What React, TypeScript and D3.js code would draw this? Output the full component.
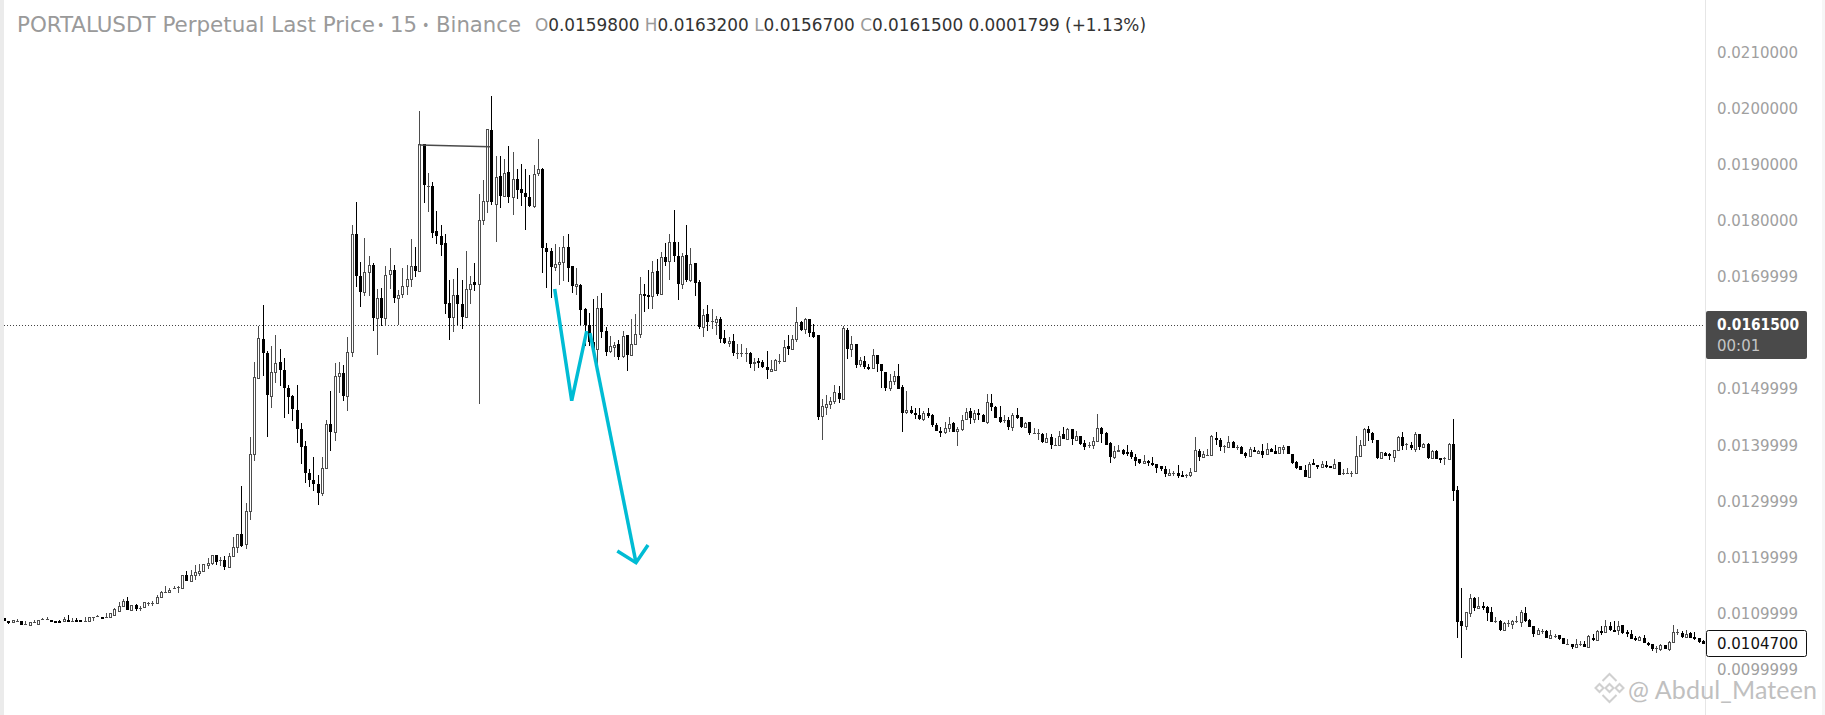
import { useMemo } from 'react';
import * as d3 from 'd3';

// Candles are [open, high, low, close] in units of 0.00001.
type Candle = number[];

const candlesBase: Candle[] = [
  [1091,1091,1087,1087],[1087,1087,1081,1083],[1084,1088,1084,1088],[1087,1090,1084,1087],[1087,1087,1079,1079],
  [1081,1087,1080,1081],[1080,1084,1080,1084],[1085,1089,1085,1085],[1081,1088,1081,1088],[1090,1092,1090,1090],
  [1090,1093,1090,1090],[1089,1089,1084,1087],[1087,1087,1083,1083],[1087,1089,1083,1083],[1087,1094,1087,1090],
  [1089,1098,1085,1085],[1087,1092,1087,1087],[1089,1091,1087,1087],[1089,1089,1087,1087],[1087,1094,1087,1087],
  [1087,1093,1087,1093],[1093,1093,1087,1093],[1095,1097,1095,1095],[1094,1094,1092,1092],[1094,1101,1094,1094],
  [1093,1101,1093,1101],[1098,1109,1095,1107],[1104,1121,1102,1114],[1113,1126,1112,1123],[1123,1130,1106,1106],
  [1106,1115,1106,1115],[1115,1117,1104,1107],[1110,1113,1104,1110],[1112,1120,1112,1120],[1118,1121,1114,1118],
  [1119,1123,1113,1119],[1119,1132,1119,1130],[1130,1140,1130,1138],[1138,1148,1136,1138],[1138,1145,1136,1142],
  [1146,1148,1144,1146],[1147,1148,1136,1147],[1146,1168,1146,1168],[1169,1176,1158,1158],[1158,1177,1158,1169],
  [1169,1186,1160,1173],[1172,1188,1166,1175],[1176,1188,1176,1188],[1187,1198,1180,1189],[1190,1205,1186,1205],
  [1204,1205,1186,1192],[1195,1200,1184,1195],[1195,1203,1177,1182],[1182,1207,1181,1203],[1202,1237,1201,1219],
  [1219,1242,1208,1241],[1241,1327,1218,1220],
];

const candlesFirstRally: Candle[] = [
  [1223,1296,1215,1283],[1283,1414,1266,1385],[1385,1548,1371,1522],[1520,1613,1518,1591],[1590,1649,1523,1565],
  [1565,1568,1414,1489],[1488,1576,1466,1531],[1531,1596,1511,1547],[1548,1572,1505,1534],[1534,1556,1448,1501],
  [1501,1508,1455,1486],[1488,1489,1443,1464],[1463,1507,1404,1428],[1428,1439,1366,1397],[1398,1407,1332,1350],
  [1351,1358,1325,1338],[1337,1378,1318,1330],[1330,1347,1293,1315],[1315,1378,1309,1360],[1360,1444,1360,1438],
  [1438,1496,1389,1423],[1424,1547,1407,1524],[1524,1549,1493,1529],[1529,1542,1479,1487],[1488,1593,1461,1566],
];

const candlesTop: Candle[] = [
  [1566,1792,1557,1776],[1776,1834,1682,1701],[1702,1727,1646,1673],[1673,1770,1666,1709],[1709,1738,1666,1722],
  [1722,1724,1603,1626],[1626,1678,1560,1663],[1663,1681,1613,1626],[1626,1719,1613,1704],[1705,1752,1678,1713],
  [1713,1722,1653,1662],[1662,1677,1615,1668],[1670,1715,1663,1684],[1684,1722,1667,1697],[1696,1767,1682,1719],
  [1719,1754,1700,1710],[1710,1995,1710,1936],[1936,1937,1831,1863],[1862,1885,1815,1862],[1862,1869,1769,1778],
  [1781,1817,1758,1773],[1772,1792,1737,1757],[1760,1776,1633,1651],[1654,1694,1587,1626],[1628,1697,1602,1668],
  [1667,1715,1615,1651],[1651,1694,1607,1628],[1629,1747,1628,1679],[1678,1701,1651,1688],[1690,1724,1675,1685],
  [1688,1847,1474,1802],[1802,1872,1792,1836],[1836,1964,1814,1964],[1962,2023,1829,1833],[1830,1916,1763,1878],
  [1880,1916,1823,1845],[1844,1911,1842,1885],[1887,1934,1832,1842],[1842,1923,1811,1875],[1875,1893,1838,1854],
  [1856,1902,1827,1849],[1849,1893,1783,1842],[1843,1881,1825,1826],[1826,1900,1822,1884],[1885,1945,1880,1893],
];

const candlesSlide: Candle[] = [
  [1893,1894,1707,1751],[1752,1761,1680,1745],[1746,1752,1662,1717],[1717,1758,1711,1723],[1723,1753,1686,1726],
  [1726,1772,1692,1754],[1754,1777,1690,1716],[1719,1720,1672,1684],[1684,1715,1667,1688],[1686,1688,1615,1641],
  [1642,1645,1577,1614],[1615,1635,1577,1584],[1583,1661,1566,1569],[1571,1665,1545,1645],[1645,1672,1591,1602],
  [1603,1611,1559,1566],[1568,1595,1564,1576],[1575,1583,1557,1579],[1580,1588,1552,1557],[1559,1604,1556,1595],
  [1597,1597,1532,1561],[1561,1624,1560,1581],[1581,1633,1580,1599],[1599,1700,1591,1670],[1670,1688,1637,1667],
  [1668,1713,1643,1666],[1666,1729,1643,1709],[1710,1731,1666,1669],[1670,1745,1670,1736],[1736,1761,1720,1726],
  [1729,1777,1694,1763],[1763,1820,1726,1737],[1738,1763,1658,1687],[1687,1743,1678,1738],[1739,1792,1691,1694],
  [1694,1752,1690,1723],[1724,1724,1665,1689],[1690,1695,1607,1610],[1611,1643,1593,1632],[1633,1649,1603,1619],
  [1622,1642,1607,1622],[1619,1631,1597,1625],[1625,1629,1582,1589],[1591,1606,1580,1582],[1582,1593,1575,1586],
  [1586,1599,1559,1564],[1565,1581,1553,1565],[1565,1580,1558,1565],[1565,1574,1549,1565],[1565,1566,1537,1544],
  [1546,1556,1532,1549],[1550,1555,1537,1548],[1549,1551,1537,1539],[1540,1567,1518,1534],[1533,1551,1532,1535],
  [1534,1554,1533,1551],[1550,1563,1545,1550],[1550,1588,1550,1575],[1576,1596,1560,1571],[1571,1597,1569,1590],
  [1590,1647,1584,1619],[1619,1622,1603,1605],[1607,1626,1599,1624],[1624,1625,1593,1600],[1602,1616,1591,1592],
];

const candlesGrind: Candle[] = [
  [1596,1597,1444,1450],[1452,1483,1409,1469],[1468,1489,1454,1474],[1473,1486,1465,1479],[1479,1507,1474,1495],
  [1493,1505,1476,1483],[1483,1612,1481,1608],[1606,1608,1553,1571],[1571,1594,1558,1581],[1581,1581,1537,1543],
  [1545,1558,1539,1552],[1550,1559,1535,1539],[1540,1545,1534,1536],[1537,1571,1537,1561],[1561,1561,1531,1545],
  [1545,1545,1501,1532],[1531,1531,1496,1502],[1502,1527,1496,1515],[1515,1533,1507,1524],[1524,1544,1500,1500],
  [1504,1508,1423,1457],[1459,1496,1455,1463],[1463,1470,1455,1457],[1458,1466,1447,1454],[1454,1466,1445,1446],
  [1447,1460,1443,1458],[1458,1466,1448,1452],[1454,1455,1433,1436],[1436,1440,1425,1426],[1426,1433,1414,1423],
  [1423,1442,1419,1431],[1431,1451,1423,1438],[1439,1441,1423,1423],[1426,1432,1398,1429],[1429,1454,1425,1445],
  [1446,1466,1445,1459],[1460,1467,1437,1448],[1447,1463,1439,1458],[1458,1464,1445,1454],[1454,1456,1441,1441],
  [1441,1492,1438,1477],[1476,1492,1460,1468],[1468,1470,1448,1448],[1451,1469,1439,1441],[1444,1453,1439,1444],
  [1444,1450,1427,1433],[1432,1458,1425,1454],[1454,1466,1447,1448],[1451,1451,1430,1432],[1432,1441,1430,1440],
  [1441,1441,1418,1421],[1422,1430,1421,1422],[1422,1429,1410,1422],[1420,1422,1403,1406],[1406,1421,1403,1413],
  [1415,1419,1393,1400],[1401,1413,1398,1401],[1401,1426,1399,1417],[1419,1433,1411,1411],[1411,1430,1410,1428],
  [1428,1428,1401,1411],[1410,1426,1407,1416],[1416,1417,1401,1402],[1403,1409,1391,1396],[1400,1406,1395,1400],
  [1400,1414,1393,1408],[1408,1455,1406,1431],[1430,1433,1403,1420],[1421,1423,1400,1401],[1403,1406,1368,1379],
  [1378,1399,1376,1390],[1390,1400,1389,1392],[1392,1394,1382,1384],[1387,1400,1381,1384],[1387,1391,1376,1378],
  [1378,1385,1363,1372],[1375,1376,1366,1368],[1368,1382,1368,1372],[1372,1373,1362,1368],[1369,1378,1363,1364],
  [1366,1367,1350,1359],[1362,1363,1354,1357],[1358,1362,1343,1349],[1347,1357,1346,1351],[1350,1354,1345,1350],
  [1351,1364,1341,1345],[1346,1353,1343,1345],[1346,1349,1341,1346],[1347,1360,1344,1352],[1354,1414,1354,1392],
  [1390,1394,1372,1379],
];

const candlesRange: Candle[] = [
  [1379,1390,1378,1385],[1383,1394,1383,1383],[1383,1418,1383,1416],[1413,1424,1401,1411],[1410,1413,1390,1397],
  [1399,1400,1386,1399],[1397,1416,1397,1406],[1406,1407,1395,1395],[1396,1400,1391,1396],[1397,1398,1385,1385],
  [1386,1387,1377,1380],[1381,1396,1381,1393],[1392,1397,1387,1388],[1386,1392,1385,1390],[1390,1402,1377,1383],
  [1384,1403,1383,1394],[1394,1395,1388,1388],[1389,1400,1384,1384],[1386,1397,1385,1396],[1393,1400,1384,1397],
  [1398,1399,1384,1384],[1385,1385,1367,1368],[1370,1372,1358,1360],[1362,1362,1356,1356],[1356,1364,1343,1343],
  [1343,1370,1342,1367],[1368,1375,1364,1365],[1365,1365,1358,1361],[1361,1372,1361,1366],[1365,1372,1359,1361],
  [1362,1362,1360,1360],[1360,1376,1360,1367],[1370,1370,1347,1347],[1350,1358,1346,1350],[1351,1359,1350,1351],
  [1351,1353,1343,1351],[1351,1416,1351,1381],[1381,1410,1379,1401],[1401,1431,1400,1429],[1428,1435,1408,1422],
  [1422,1423,1403,1410],[1410,1410,1375,1377],[1377,1388,1376,1387],[1386,1388,1381,1381],[1384,1386,1374,1380],
  [1379,1392,1370,1392],[1391,1416,1390,1415],[1415,1424,1391,1399],[1402,1404,1391,1402],[1400,1406,1392,1395],
  [1394,1424,1388,1419],[1419,1420,1391,1397],[1397,1404,1395,1402],[1402,1403,1375,1377],[1377,1391,1377,1390],
  [1390,1391,1375,1375],[1377,1377,1368,1373],[1377,1378,1365,1377],[1375,1404,1375,1402],
];

const candlesCrash: Candle[] = [
  [1402,1446,1301,1318],[1320,1327,1056,1085],[1086,1146,1020,1078],[1078,1103,1070,1102],[1100,1134,1094,1128],
  [1127,1130,1105,1110],[1110,1130,1107,1114],[1114,1120,1106,1112],[1112,1113,1086,1100],[1102,1111,1085,1085],
  [1086,1093,1083,1086],[1087,1088,1069,1070],[1071,1084,1069,1083],[1083,1088,1076,1083],[1081,1089,1073,1086],
  [1087,1096,1083,1087],[1085,1106,1076,1102],[1100,1111,1085,1087],[1089,1090,1075,1076],[1077,1078,1058,1063],
  [1063,1074,1062,1071],[1069,1073,1063,1069],[1068,1070,1056,1056],[1057,1070,1056,1061],[1059,1064,1056,1059],
  [1061,1062,1053,1055],[1056,1056,1046,1046],[1046,1055,1043,1046],[1045,1046,1037,1040],[1041,1055,1041,1046],
  [1046,1050,1042,1046],[1045,1050,1041,1041],[1041,1061,1041,1060],[1057,1064,1051,1052],[1053,1070,1053,1068],
  [1068,1078,1062,1065],[1066,1089,1066,1077],[1077,1085,1068,1070],[1071,1086,1069,1070],[1071,1086,1061,1078],
  [1079,1079,1064,1065],[1067,1071,1058,1064],[1064,1070,1054,1055],[1057,1059,1050,1052],[1053,1059,1052,1058],
  [1057,1062,1048,1048],[1048,1049,1042,1043],[1045,1046,1033,1036],[1039,1042,1030,1039],[1036,1045,1033,1043],
  [1043,1044,1036,1037],[1036,1051,1033,1049],[1049,1079,1049,1066],[1066,1073,1061,1066],[1065,1069,1056,1058],
  [1058,1071,1057,1064],[1065,1066,1056,1057],[1058,1067,1053,1055],[1056,1057,1048,1049],[1051,1052,1045,1046],
];

const priceTicks = [0.021, 0.02, 0.019, 0.018, 0.017, 0.015, 0.014, 0.013, 0.012, 0.011, 0.01];
const tickLabels = [
  '0.0210000', '0.0200000', '0.0190000', '0.0180000', '0.0169999', '0.0149999',
  '0.0139999', '0.0129999', '0.0119999', '0.0109999', '0.0099999',
];

const lastPrice = 0.01615;
const lastCandlePrice = 0.01047;
const peakLevel = [0.01935, 0.01932];

const legendParts = [
  { k: 'O', v: '0.0159800' },
  { k: 'H', v: '0.0163200' },
  { k: 'L', v: '0.0156700' },
  { k: 'C', v: '0.0161500' },
];

const BULL_STROKE = '#4d4d4d';
const BEAR_FILL = '#000000';
const CYAN = '#00bcd4';
const LABEL_FONT = '"DejaVu Sans", sans-serif';
const TITLE_FONT = '"DejaVu Sans Condensed", "DejaVu Sans", sans-serif';

export default function App() {
  const width = 1825;
  const height = 715;
  const axisX = 1705;

  const candles = useMemo(
    () => [
      ...candlesBase,
      ...candlesFirstRally,
      ...candlesTop,
      ...candlesSlide,
      ...candlesGrind,
      ...candlesRange,
      ...candlesCrash,
    ],
    []
  );

  const x = d3
    .scaleBand<number>()
    .domain(d3.range(candles.length))
    .range([2.6, 2.6 + 4.236 * candles.length]);
  const y = d3.scaleLinear().domain([0.021, 0.01]).range([52.5, 669.5]);
  const py = (v: number) => Math.round(y(v * 1e-5));

  const cyanPath = d3.line()([
    [554.7, 289],
    [571.7, 400.7],
    [586.7, 331],
  ]);
  const cyanArrow = d3.line()([
    [590, 333],
    [636, 562.7],
  ]);
  const cyanHead = d3.line()([
    [617.3, 551],
    [636, 562.7],
    [648, 545],
  ]);

  return (
    <svg
      width={width}
      height={height}
      style={{ position: 'absolute', left: 0, top: 0, display: 'block', background: '#fff' }}
    >
      <rect x={0} y={0} width={4} height={height} fill="#ebebeb" />
      <rect x={1822} y={0} width={3} height={height} fill="#f6f6f6" />

      {/* last price line */}
      <line
        x1={4}
        x2={axisX}
        y1={Math.round(y(lastPrice)) + 0.5}
        y2={Math.round(y(lastPrice)) + 0.5}
        stroke="#444"
        strokeDasharray="1 2"
      />

      <g clipPath="url(#plot)">
        <clipPath id="plot">
          <rect x={4} y={0} width={axisX - 4} height={height} />
        </clipPath>
        {candles.map(([o, h, l, c], i) => {
          const cx = Math.floor((x(i) ?? 0) + x.bandwidth() / 2) + 0.5;
          const up = c >= o;
          const top = py(Math.max(o, c));
          const bot = py(Math.min(o, c));
          const color = up ? BULL_STROKE : BEAR_FILL;
          return (
            <g key={i}>
              <line x1={cx} x2={cx} y1={py(h)} y2={py(l)} stroke={color} strokeWidth={1} />
              {c === o ? (
                <rect x={cx - 1.5} y={top} width={3} height={1} fill={color} />
              ) : up ? (
                <rect
                  x={cx - 1}
                  y={top + 0.5}
                  width={2}
                  height={Math.max(bot - top, 1)}
                  fill="#fff"
                  stroke={BULL_STROKE}
                  strokeWidth={1}
                />
              ) : (
                <rect x={cx - 1.5} y={top} width={3} height={Math.max(bot - top, 2)} fill={BEAR_FILL} />
              )}
            </g>
          );
        })}
      </g>

      {/* drawings */}
      <line
        x1={419.5}
        x2={490}
        y1={y(peakLevel[0])}
        y2={y(peakLevel[1])}
        stroke="#4a4a4a"
        strokeWidth={1.4}
      />
      <path d={cyanPath ?? ''} fill="none" stroke={CYAN} strokeWidth={3.5} strokeLinejoin="miter" />
      <path d={cyanArrow ?? ''} fill="none" stroke={CYAN} strokeWidth={3.5} />
      <path d={cyanHead ?? ''} fill="none" stroke={CYAN} strokeWidth={3.5} />

      {/* title + ohlc */}
      <text y={32} fontFamily={TITLE_FONT} fontSize={22} fill="#9a9a9a" lengthAdjust="spacingAndGlyphs">
        <tspan x={17} textLength={358} lengthAdjust="spacingAndGlyphs">PORTALUSDT Perpetual Last Price</tspan>
        <tspan x={377} fontSize={14} dy={-2}>•</tspan>
        <tspan x={390} dy={2} textLength={27} lengthAdjust="spacingAndGlyphs">15</tspan>
        <tspan x={422} fontSize={14} dy={-2}>•</tspan>
        <tspan x={436} dy={2} textLength={85} lengthAdjust="spacingAndGlyphs">Binance</tspan>
      </text>
      <text x={535} y={31} fontFamily={TITLE_FONT} fontSize={17} fill="#333" textLength={611} lengthAdjust="spacingAndGlyphs">
        {legendParts.map(p => (
          <tspan key={p.k}>
            <tspan fill="#9a9a9a">{p.k}</tspan>
            {p.v + ' '}
          </tspan>
        ))}
        0.0001799 (+1.13%)
      </text>

      {/* price axis */}
      <line x1={axisX + 0.5} x2={axisX + 0.5} y1={0} y2={height} stroke="#e6e6e6" />
      {priceTicks.map((t, i) => (
        <text
          key={t}
          x={1717}
          y={y(t)}
          dy="0.36em"
          fontFamily={LABEL_FONT}
          fontSize={15}
          fill="#a0a0a0"
        >
          {tickLabels[i]}
        </text>
      ))}

      <rect x={1706} y={311} width={101} height={48} rx={2} fill="#4a4a4a" />
      <text x={1717} y={330} fontFamily={LABEL_FONT} fontSize={15} fontWeight={600} fill="#fff" textLength={82} lengthAdjust="spacingAndGlyphs">
        {d3.format('.7f')(lastPrice)}
      </text>
      <text x={1717} y={351} fontFamily={LABEL_FONT} fontSize={15} fill="#c4c4c4">
        00:01
      </text>

      <rect x={1706.5} y={630.5} width={100} height={26} rx={2} fill="#fff" stroke="#111" />
      <text x={1717} y={y(lastCandlePrice)} dy="0.36em" fontFamily={LABEL_FONT} fontSize={15} fill="#111">
        {d3.format('.7f')(lastCandlePrice)}
      </text>

      {/* watermark */}
      <g fill="none" stroke="#d0d0d0" strokeWidth={2} transform="translate(1609.5,688)">
        <path d="M-7,-7 L0,-14 L7,-7" />
        <path d="M-14,0 L-10,-4 L-6,0 L-10,4 Z" />
        <path d="M14,0 L10,-4 L6,0 L10,4 Z" />
        <path d="M-4,0 L0,-4 L4,0 L0,4 Z" />
        <path d="M-7,7 L0,14 L7,7" />
      </g>
      <text x={1628} y={699} fontFamily="Lato, sans-serif" fontSize={25} fill="#c0c0c0" textLength={189} lengthAdjust="spacing">
        @ Abdul_Mateen
      </text>
    </svg>
  );
}
